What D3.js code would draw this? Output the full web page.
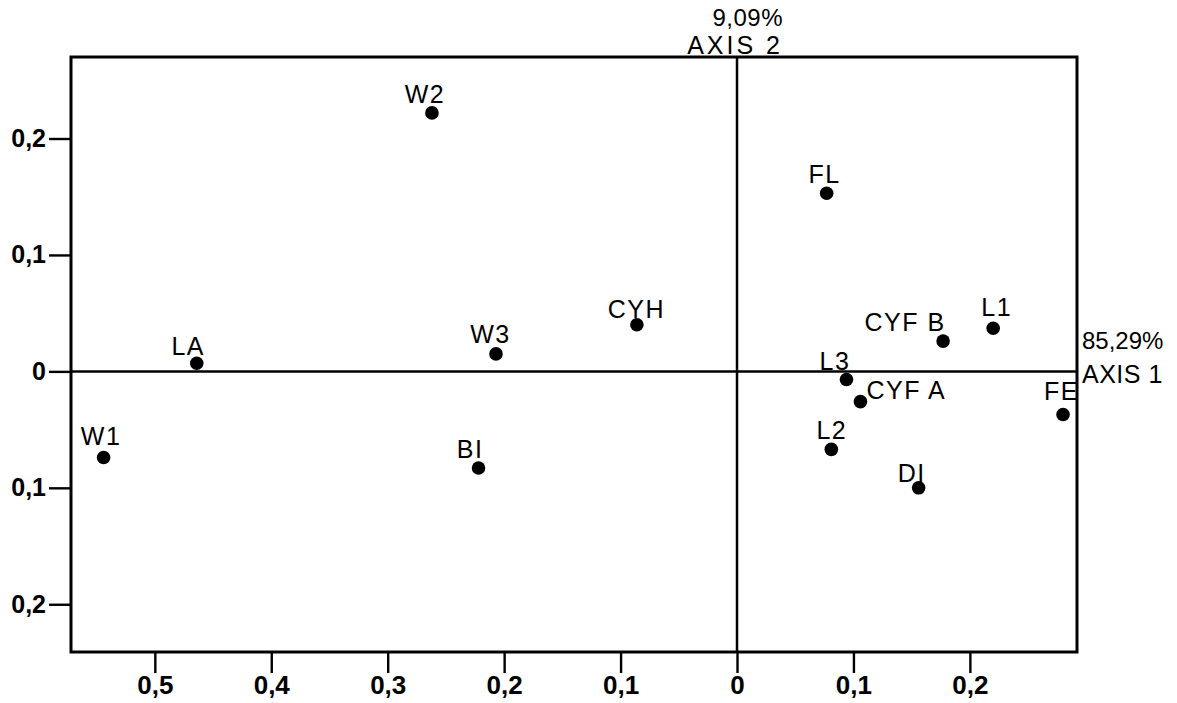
<!DOCTYPE html>
<html>
<head>
<meta charset="utf-8">
<script src="https://cdn.jsdelivr.net/npm/d3@7/dist/d3.min.js"></script>
<style>
  html, body { margin: 0; padding: 0; background: #fff; }
  svg { display: block; }
  text { font-family: "Liberation Sans", Arial, Helvetica, sans-serif; fill: #000; }
</style>
</head>
<body>
<svg id="chart" width="1177" height="703"></svg>
<script>
// Correspondence analysis: sample coordinates on the first two axes
const names = ["W1", "LA", "W2", "W3", "BI", "CYH", "FL", "CYF B", "L1", "L3", "CYF A", "L2", "DI", "FE"];
const axis1 = [-0.544, -0.464, -0.262, -0.207, -0.222, -0.086, 0.077, 0.177, 0.220, 0.094, 0.106, 0.081, 0.156, 0.280];
const axis2 = [-0.074, 0.007, 0.222, 0.015, -0.083, 0.040, 0.153, 0.026, 0.037, -0.007, -0.026, -0.067, -0.100, -0.037];

// Tick values and their printed labels (magnitudes only, as printed)
const xTickValues = [-0.5, -0.4, -0.3, -0.2, -0.1, 0, 0.1, 0.2];
const xTickLabels = ["0,5", "0,4", "0,3", "0,2", "0,1", "0", "0,1", "0,2"];
const yTickValues = [0.2, 0.1, 0, -0.1, -0.2];
const yTickLabels = ["0,2", "0,1", "0", "0,1", "0,2"];

// Axis titles: inertia percentages
const axis1Title = ["85,29%", "AXIS 1"];
const axis2Title = ["9,09%", "AXIS 2"];

// Label placement relative to each point (px): [dx, dy, anchor]
const labelPlacement = {
  "W1": [-2.5, -13, "middle"], "LA": [-8.5, -8, "middle"], "W2": [-7, -10, "middle"],
  "W3": [-5.5, -11, "middle"], "BI": [-8.5, -10, "middle"], "CYH": [-0.5, -7, "middle"],
  "FL": [-2, -10, "middle"], "CYF B": [-38, -10, "middle"], "L1": [3.5, -12, "middle"],
  "L3": [-11.5, -10, "middle"], "CYF A": [6, -3, "start"], "L2": [0.5, -10, "middle"],
  "DI": [-7, -6, "middle"], "FE": [-1.5, -14, "middle"]
};

const frame = { left: 71, right: 1077, top: 57, bottom: 652 };

const x = d3.scaleLinear().domain([-0.572, 0.292]).range([frame.left, frame.right]);
const y = d3.scaleLinear().domain([-0.241, 0.270]).range([frame.bottom, frame.top]);

const svg = d3.select("#chart");

// Bottom axis (ticks outside the frame)
const xAxis = d3.axisBottom(x)
  .tickValues(xTickValues)
  .tickFormat((d, i) => xTickLabels[i])
  .tickSize(21).tickSizeOuter(0).tickPadding(3);
const gx = svg.append("g").attr("transform", `translate(0,${frame.bottom})`).call(xAxis);
gx.select(".domain").remove();
gx.selectAll(".tick line").attr("stroke", "#000").attr("stroke-width", 2.4);
gx.selectAll(".tick text")
  .style("font-size", "26px").style("font-weight", "bold");

// Left axis
const yAxis = d3.axisLeft(y)
  .tickValues(yTickValues)
  .tickFormat((d, i) => yTickLabels[i])
  .tickSize(22).tickSizeOuter(0).tickPadding(3);
const gy = svg.append("g").attr("transform", `translate(${frame.left},0)`).call(yAxis);
gy.select(".domain").remove();
gy.selectAll(".tick line").attr("stroke", "#000").attr("stroke-width", 2.4);
gy.selectAll(".tick text")
  .style("font-size", "25px").style("font-weight", "bold");

// Frame
svg.append("rect")
  .attr("x", frame.left).attr("y", frame.top)
  .attr("width", frame.right - frame.left).attr("height", frame.bottom - frame.top)
  .attr("fill", "none").attr("stroke", "#000").attr("stroke-width", 3);

// Principal axes through the origin
svg.append("line")
  .attr("x1", frame.left).attr("x2", frame.right)
  .attr("y1", y(0)).attr("y2", y(0))
  .attr("stroke", "#000").attr("stroke-width", 2.5);
svg.append("line")
  .attr("x1", x(0)).attr("x2", x(0))
  .attr("y1", frame.top).attr("y2", frame.bottom)
  .attr("stroke", "#000").attr("stroke-width", 2.5);

// Axis titles
svg.append("text")
  .attr("text-anchor", "end")
  .attr("x", x(0) + 46).attr("y", 26)
  .style("font-size", "24px").style("letter-spacing", "0.5px")
  .text(axis2Title[0]);
svg.append("text")
  .attr("text-anchor", "end")
  .attr("x", x(0) + 46).attr("y", 54)
  .style("font-size", "25px").style("letter-spacing", "3px")
  .text(axis2Title[1]);

svg.append("text")
  .attr("text-anchor", "start")
  .attr("x", frame.right + 5).attr("y", y(0) - 22)
  .style("font-size", "24px")
  .text(axis1Title[0]);
svg.append("text")
  .attr("text-anchor", "start")
  .attr("x", frame.right + 5).attr("y", y(0) + 12)
  .style("font-size", "25px").style("letter-spacing", "0.5px")
  .text(axis1Title[1]);

// Points
const pts = names.map((n, i) => ({ name: n, a1: axis1[i], a2: axis2[i] }));

svg.append("g").selectAll("circle")
  .data(pts).join("circle")
  .attr("cx", d => x(d.a1))
  .attr("cy", d => y(d.a2))
  .attr("r", 6.8)
  .attr("fill", "#000");

svg.append("g").selectAll("text")
  .data(pts).join("text")
  .attr("x", d => x(d.a1) + labelPlacement[d.name][0])
  .attr("y", d => y(d.a2) + labelPlacement[d.name][1])
  .attr("text-anchor", d => labelPlacement[d.name][2])
  .style("font-size", "25px")
  .style("letter-spacing", "1.5px")
  .text(d => d.name);
</script>
</body>
</html>
